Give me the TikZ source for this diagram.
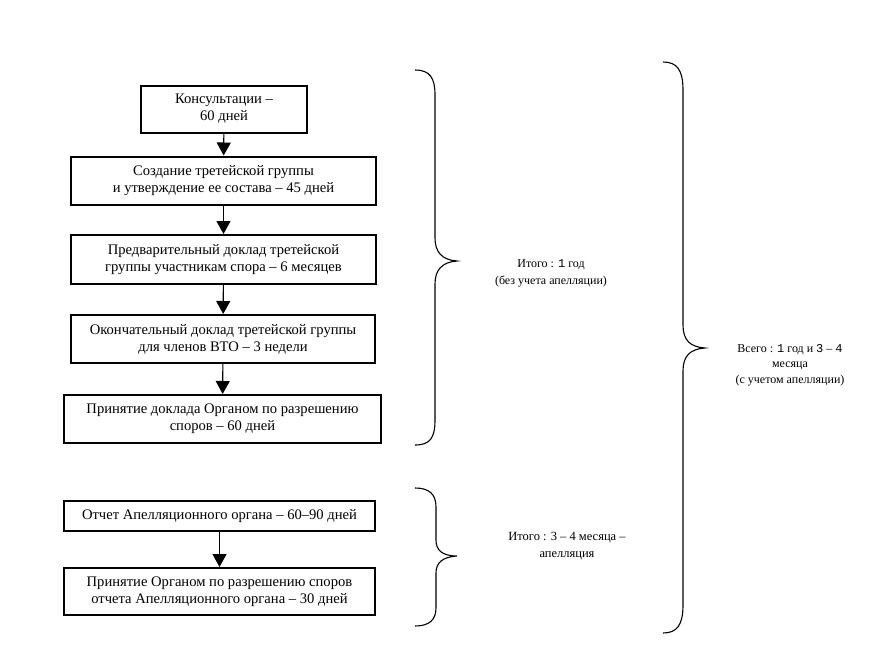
\documentclass[tikz,border=0pt]{standalone}
\usepackage{fontspec}
\setmainfont{Liberation Serif}
\newfontfamily\digitmono{Liberation Mono}
\usetikzlibrary{arrows.meta}
\begin{document}
\begin{tikzpicture}[x=1pt,y=-1pt,
  stepbox/.style={draw=black,line width=2pt,align=center,inner sep=2pt,
    font=\fontsize{14.6}{17}\selectfont},
  flow/.style={line width=1.1pt,-{Triangle[width=14pt,length=13pt]}},
  brace/.style={line width=1.1pt},
  lbl/.style={align=center,font=\fontsize{12.5}{17}\selectfont}]
\useasboundingbox (0,0) rectangle (889,659);
\node[stepbox,minimum width=166pt,minimum height=47pt] (b1) at (224,109) {Консультации –\\60 дней};
\node[stepbox,minimum width=305pt,minimum height=48pt] (b2) at (223.5,180.5) {Создание третейской группы\\и утверждение ее состава – 45 дней};
\node[stepbox,minimum width=305pt,minimum height=49pt] (b3) at (223.5,259.5) {Предварительный доклад третейской\\группы участникам спора – 6 месяцев};
\node[stepbox,minimum width=304pt,minimum height=48pt] (b4) at (223,339) {Окончательный доклад третейской группы\\для членов ВТО – 3 недели};
\node[stepbox,minimum width=317pt,minimum height=48pt] (b5) at (222.5,419) {Принятие доклада Органом по разрешению\\споров – 60 дней};
\node[stepbox,minimum width=311pt,minimum height=30pt] (b6) at (219.5,516) {Отчет Апелляционного органа – 60–90 дней};
\node[stepbox,minimum width=311pt,minimum height=47pt] (b7) at (219.5,591.5) {Принятие Органом по разрешению споров\\отчета Апелляционного органа – 30 дней};
\draw[flow] (b1) -- (b2);
\draw[flow] (b2) -- (b3);
\draw[flow] (b3) -- (b4);
\draw[flow] (b4) -- (b5);
\draw[flow] (b6) -- (b7);
% braces
\draw[brace] (415,70) .. controls (430,70) and (435,78) .. (435,95) -- (435,238)
  .. controls (435,252) and (442,260) .. (457,261)
  .. controls (442,262) and (435,270) .. (435,284) -- (435,420)
  .. controls (435,438) and (430,445) .. (415,445);
\draw[brace] (415,488) .. controls (429,488) and (436,494) .. (436,507) -- (436,540)
  .. controls (436,550) and (442,556) .. (457,556)
  .. controls (442,557) and (436,563) .. (436,573) -- (436,608)
  .. controls (436,620) and (429,626) .. (415,626);
\draw[brace] (663,62) .. controls (677,62) and (683,70) .. (683,90) -- (683,325)
  .. controls (683,340) and (690,347) .. (705,348)
  .. controls (690,349) and (683,356) .. (683,371) -- (683,605)
  .. controls (683,625) and (677,633) .. (663,633);
\node[lbl,font=\fontsize{12}{17}\selectfont] (t1) at (551,273) {Итого : {\digitmono 1} год\\(без учета апелляции)};
\node[lbl] (t2) at (567,546) {Итого : 3 – 4 месяца –\\апелляция};
\node[lbl,font=\fontsize{12}{15.5}\selectfont] (t3) at (790,365) {Всего : {\digitmono 1} год и {\digitmono 3} – {\digitmono 4}\\месяца\\(с учетом апелляции)};
\end{tikzpicture}
\end{document}
